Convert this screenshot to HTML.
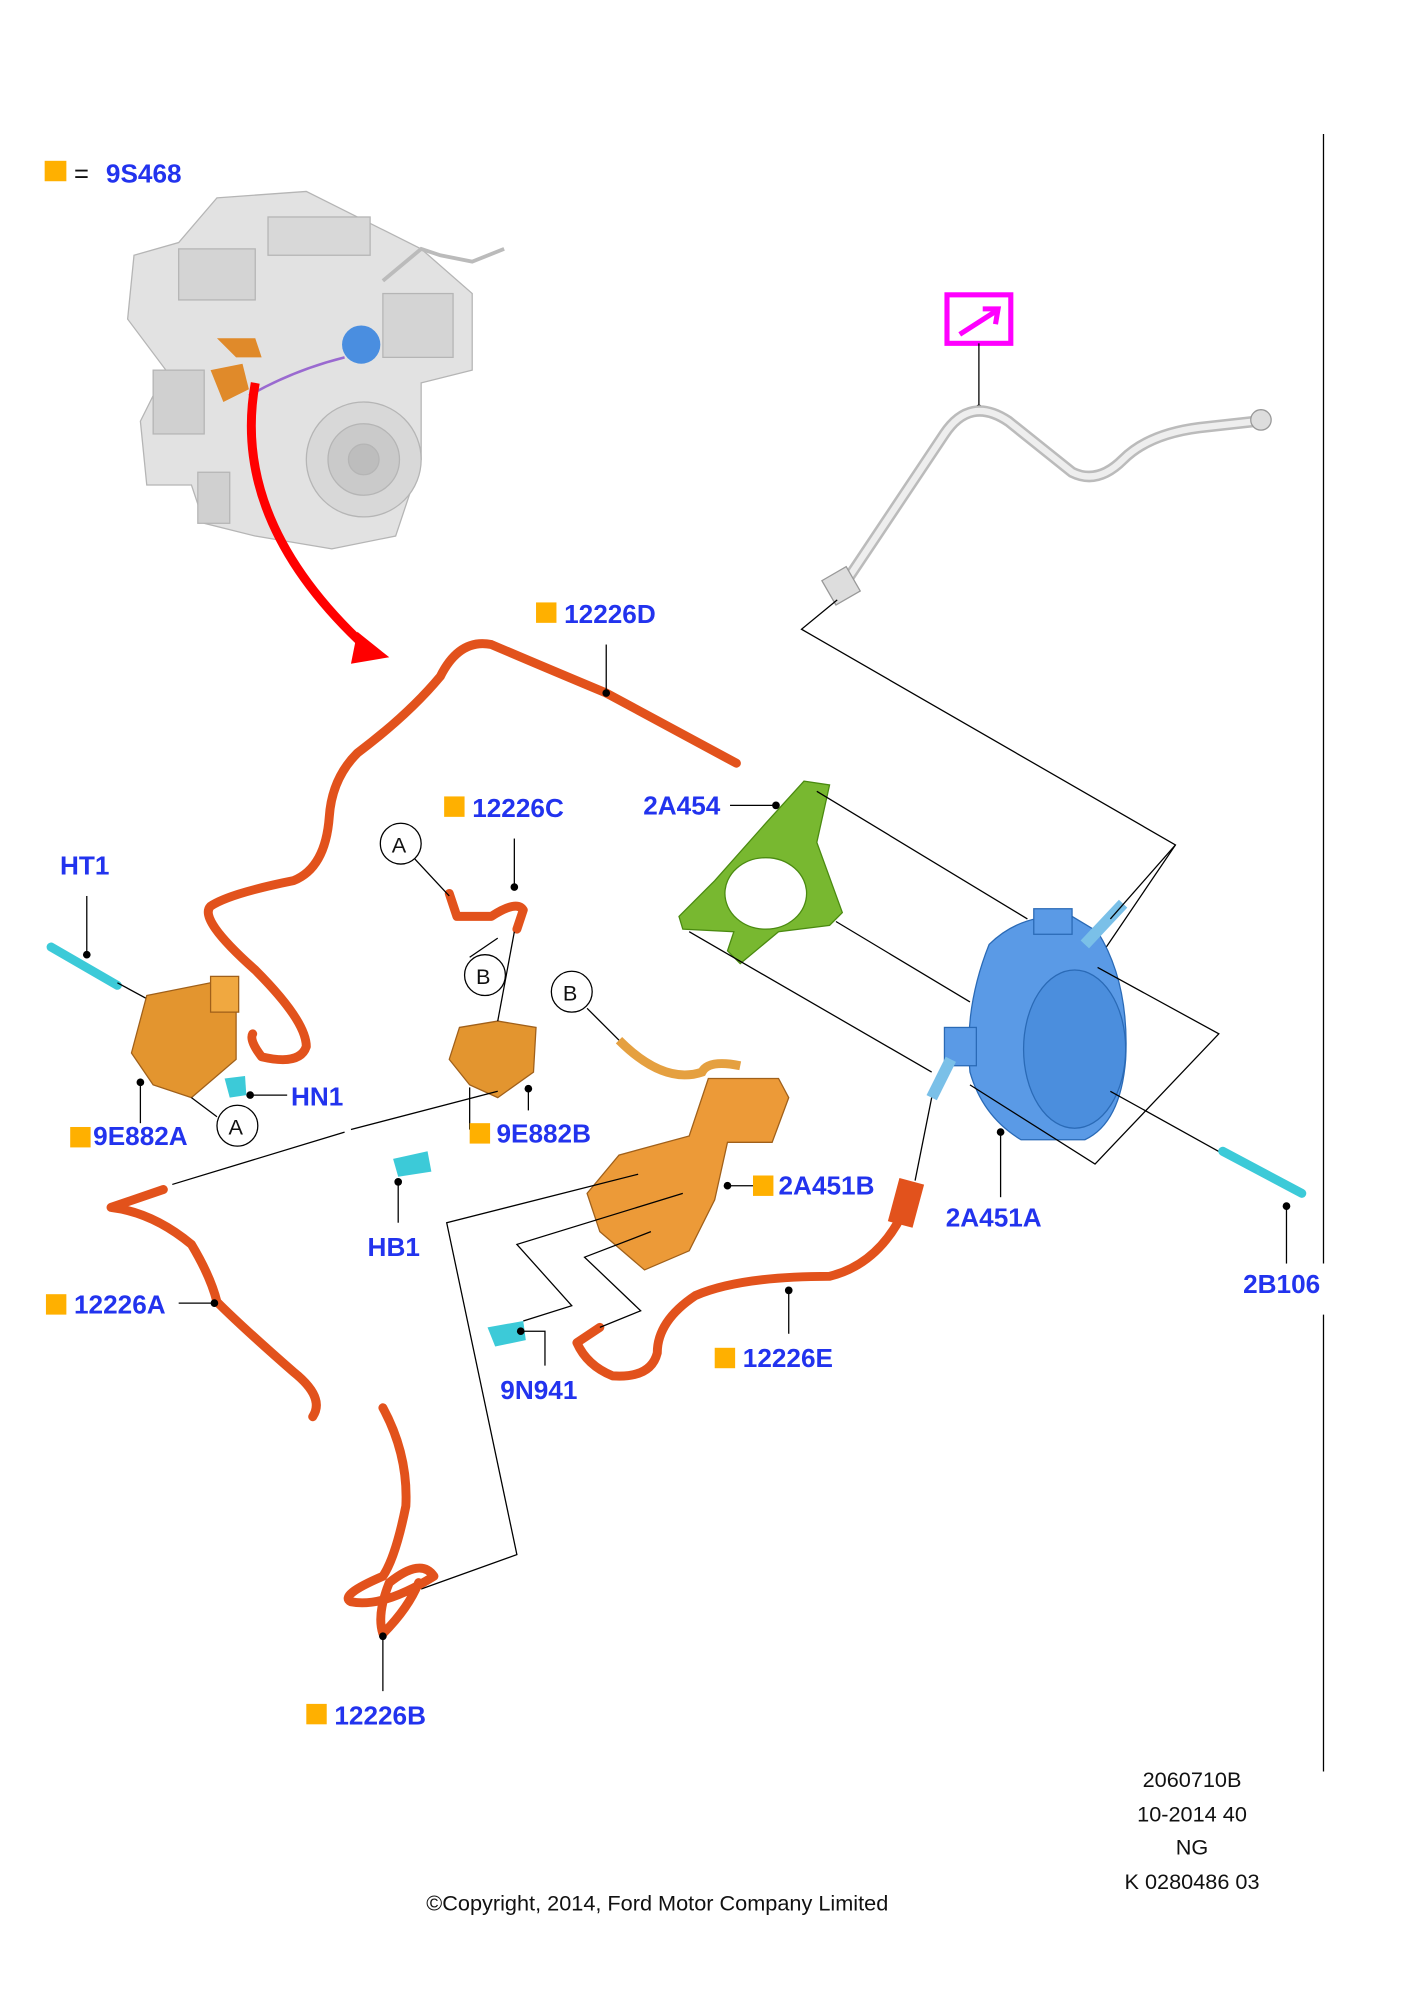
<!DOCTYPE html>
<html><head><meta charset="utf-8"><style>
html,body{margin:0;padding:0;background:#fff}
svg{display:block}
.l{font-family:"Liberation Sans",sans-serif;font-weight:bold;font-size:20.5px;fill:#2233ee}
.k{font-family:"Liberation Sans",sans-serif;font-size:17px;fill:#111}
.ln{stroke:#000;stroke-width:1;fill:none}
.h{fill:none;stroke:#e2521c;stroke-width:7;stroke-linecap:round;stroke-linejoin:round}
.c{fill:#fff;stroke:#000;stroke-width:1}
</style></head><body>
<svg width="1409" height="2000" viewBox="0 0 1104 1567" preserveAspectRatio="none" xmlns="http://www.w3.org/2000/svg">
<rect width="1104" height="1567" fill="#fff"/>
<rect x="35" y="126" width="17" height="16" fill="#ffb000"/>
<text x="58" y="143" class="k" style="font-size:20px">=</text>
<text x="83" y="143" class="l">9S468</text>
<!-- engine -->
<g fill="#e2e2e2" stroke="#b5b5b5" stroke-width="1">
<path d="M170 155 L240 150 L300 180 L330 195 L370 230 L370 290 L330 300 L330 360 L310 420 L260 430 L200 420 L160 410 L150 380 L115 380 L110 330 L130 290 L100 250 L105 200 L140 190 Z"/>
<rect x="140" y="195" width="60" height="40" fill="#d4d4d4"/>
<rect x="210" y="170" width="80" height="30" fill="#d8d8d8"/>
<rect x="300" y="230" width="55" height="50" fill="#d4d4d4"/>
<rect x="120" y="290" width="40" height="50" fill="#d0d0d0"/>
<circle cx="285" cy="360" r="45" fill="#d8d8d8"/>
<circle cx="285" cy="360" r="28" fill="#cacaca"/>
<circle cx="285" cy="360" r="12" fill="#bdbdbd"/>
<rect x="155" y="370" width="25" height="40" fill="#d0d0d0"/>
</g>
<path d="M300 220 L330 195 L345 200 L370 205 L395 195" stroke="#bbb" stroke-width="3" fill="none"/>
<circle cx="283" cy="270" r="15" fill="#4a8ee0"/>
<path d="M165 290 L190 285 L195 305 L175 315 Z" fill="#e08a2a"/>
<path d="M170 265 L200 265 L205 280 L185 280 Z" fill="#e08a2a"/>
<path d="M195 310 Q230 290 270 280" stroke="#9a6ad0" stroke-width="2" fill="none"/>
<path d="M200 300 Q180 410 290 510" stroke="#f00" stroke-width="7" fill="none"/>
<path d="M280 495 L305 515 L275 520 Z" fill="#f00"/>
<line x1="1037" y1="105" x2="1037" y2="990" class="ln"/>
<line x1="1037" y1="1030" x2="1037" y2="1388" class="ln"/>
<rect x="742" y="231" width="50" height="38" fill="none" stroke="#f0f" stroke-width="4"/>
<path d="M752 262 L780 244 M770 242 L782 242 L780 254" stroke="#f0f" stroke-width="4" fill="none"/>
<line x1="767" y1="269" x2="767" y2="320" class="ln"/>
<circle cx="767" cy="320" r="3"/>
<path d="M660 460 L740 340 Q760 310 790 330 L840 370 Q860 380 880 360 Q900 340 940 335 L985 330" stroke="#bbb" stroke-width="9" fill="none"/>
<path d="M660 460 L740 340 Q760 310 790 330 L840 370 Q860 380 880 360 Q900 340 940 335 L985 330" stroke="#eee" stroke-width="5" fill="none"/>
<circle cx="988" cy="329" r="8" fill="#ddd" stroke="#999"/>
<rect x="648" y="448" width="22" height="22" fill="#ddd" stroke="#999" transform="rotate(-30 659 459)"/>
<polyline points="656,470 628,493 921,662 858,755" class="ln"/>
<path class="h" d="M577 598 L475 543 Q420 520 385 505 Q360 500 345 530 Q320 560 280 590 Q260 610 258 640 Q255 680 230 690 Q180 700 165 710 Q155 720 200 760 Q240 800 240 820 Q235 835 205 828 Q195 815 198 810"/>
<rect x="420" y="472" width="16" height="16" fill="#ffb000"/>
<text x="442" y="488" class="l">12226D</text>
<line x1="475" y1="505" x2="475" y2="543" class="ln"/><circle cx="475" cy="543" r="3"/>
<rect x="348" y="624" width="16" height="16" fill="#ffb000"/>
<text x="370" y="640" class="l">12226C</text>
<polyline points="403,657 403,695" class="ln"/><circle cx="403" cy="695" r="3"/>
<path class="h" d="M352 700 L358 718 L385 718 Q405 705 410 713 L405 728"/>
<circle cx="314" cy="661" r="16" class="c"/><text x="307" y="668" class="k">A</text>
<line x1="325" y1="673" x2="352" y2="702" class="ln"/>
<circle cx="380" cy="764" r="16" class="c"/><text x="373" y="771" class="k">B</text>
<line x1="368" y1="750" x2="390" y2="735" class="ln"/>
<text x="504" y="638" class="l">2A454</text>
<line x1="572" y1="631" x2="608" y2="631" class="ln"/><circle cx="608" cy="631" r="3"/>
<path d="M630 612 L650 615 L640 660 L660 715 L650 725 L610 730 L580 755 L570 745 L575 730 L535 728 L532 718 L560 690 L600 645 Z" fill="#78b830" stroke="#4a8a10"/>
<ellipse cx="600" cy="700" rx="32" ry="28" fill="#fff" stroke="#4a8a10"/>
<polyline points="640,620 805,720" class="ln"/>
<polyline points="655,722 760,785" class="ln"/>
<polyline points="540,730 730,840" class="ln"/>
<g>
<path d="M775 740 Q800 715 840 718 L860 730 Q885 770 882 830 Q878 880 850 893 L800 893 Q770 875 760 840 Q755 790 775 740 Z" fill="#5a9ae6" stroke="#2a6ab6"/>
<ellipse cx="842" cy="822" rx="40" ry="62" fill="#4b8edd" stroke="#2a6ab6"/>
<rect x="740" y="805" width="25" height="30" fill="#5a9ae6" stroke="#2a6ab6"/>
<rect x="810" y="712" width="30" height="20" fill="#5a9ae6" stroke="#2a6ab6"/>
<path d="M850 740 L880 708" stroke="#7ac0e8" stroke-width="9"/>
<path d="M745 830 L730 860" stroke="#7ac0e8" stroke-width="9"/>
</g>
<polyline points="870,720 921,662" class="ln"/>
<polyline points="860,758 955,810 858,912 760,850" class="ln"/>
<line x1="784" y1="887" x2="784" y2="938" class="ln"/><circle cx="784" cy="887" r="3"/>
<text x="741" y="961" class="l">2A451A</text>
<line x1="870" y1="855" x2="960" y2="905" class="ln"/>
<path d="M958 902 L1020 935" stroke="#3ccad8" stroke-width="7" stroke-linecap="round"/>
<line x1="1008" y1="945" x2="1008" y2="990" class="ln"/><circle cx="1008" cy="945" r="3"/>
<text x="974" y="1013" class="l">2B106</text>
<path class="h" d="M710 945 Q690 990 650 1000 Q580 1000 545 1015 Q515 1035 515 1060 Q510 1080 480 1078 Q460 1070 452 1052 L470 1040"/>
<rect x="700" y="925" width="20" height="35" fill="#e2521c" transform="rotate(15 710 942)"/>
<line x1="717" y1="925" x2="730" y2="860" class="ln"/>
<line x1="618" y1="1011" x2="618" y2="1045" class="ln"/><circle cx="618" cy="1011" r="3"/>
<rect x="560" y="1056" width="16" height="16" fill="#ffb000"/>
<text x="582" y="1071" class="l">12226E</text>
<text x="47" y="685" class="l">HT1</text>
<line x1="68" y1="702" x2="68" y2="748" class="ln"/><circle cx="68" cy="748" r="3"/>
<path d="M40 742 L92 772" stroke="#3ccad8" stroke-width="7" stroke-linecap="round"/>
<line x1="92" y1="770" x2="175" y2="815" class="ln"/>
<path d="M115 780 L165 770 L185 780 L185 830 L150 860 L120 850 L103 825 Z" fill="#e3952f" stroke="#a0601a"/>
<rect x="165" y="765" width="22" height="28" fill="#f0a840" stroke="#a0601a"/>
<line x1="110" y1="845" x2="110" y2="880" class="ln"/><circle cx="110" cy="848" r="3"/>
<rect x="55" y="883" width="16" height="16" fill="#ffb000"/>
<text x="73" y="897" class="l">9E882A</text>
<path d="M176 845 L192 843 L193 858 L180 860 Z" fill="#3ccad8"/>
<line x1="196" y1="858" x2="225" y2="858" class="ln"/><circle cx="196" cy="858" r="3"/>
<text x="228" y="866" class="l">HN1</text>
<circle cx="186" cy="882" r="16" class="c"/><text x="179" y="889" class="k">A</text>
<line x1="170" y1="875" x2="150" y2="860" class="ln"/>
<path d="M360 805 L390 800 L420 805 L418 840 L390 860 L368 850 L352 830 Z" fill="#e3952f" stroke="#a0601a"/>
<line x1="390" y1="800" x2="403" y2="730" class="ln"/>
<line x1="368" y1="852" x2="368" y2="885" class="ln"/>
<line x1="414" y1="853" x2="414" y2="870" class="ln"/><circle cx="414" cy="853" r="3"/>
<rect x="368" y="880" width="16" height="16" fill="#ffb000"/>
<text x="389" y="895" class="l">9E882B</text>
<line x1="275" y1="885" x2="390" y2="855" class="ln"/>
<line x1="135" y1="928" x2="270" y2="887" class="ln"/>
<path d="M308 908 L335 902 L338 918 L312 922 Z" fill="#3ccad8"/>
<line x1="312" y1="926" x2="312" y2="958" class="ln"/><circle cx="312" cy="926" r="3"/>
<text x="288" y="984" class="l">HB1</text>
<circle cx="448" cy="777" r="16" class="c"/><text x="441" y="784" class="k">B</text>
<line x1="460" y1="790" x2="485" y2="815" class="ln"/>
<path d="M485 815 Q520 850 550 840 Q555 830 580 835" stroke="#e5a040" stroke-width="7" fill="none"/>
<path d="M555 845 L610 845 L618 860 L605 895 L570 895 L560 940 L540 980 L505 995 L470 965 L460 935 L485 905 L540 890 Z" fill="#ec9a38" stroke="#a0601a"/>
<line x1="570" y1="929" x2="590" y2="929" class="ln"/><circle cx="570" cy="929" r="3"/>
<rect x="590" y="921" width="16" height="16" fill="#ffb000"/>
<text x="610" y="936" class="l">2A451B</text>
<polyline points="500,920 350,958 405,1218 330,1245" class="ln"/>
<polyline points="535,935 405,975 448,1023 410,1035" class="ln"/>
<polyline points="510,965 458,985 502,1027 470,1040" class="ln"/>
<path d="M382 1040 L410 1035 L412 1050 L388 1055 Z" fill="#3ccad8"/>
<polyline points="408,1043 427,1043 427,1070" class="ln"/><circle cx="408" cy="1043" r="3"/>
<text x="392" y="1096" class="l">9N941</text>
<path class="h" d="M87 946 L128 932 M87 946 Q120 950 150 975 Q165 1000 170 1020 Q190 1040 230 1075 Q255 1095 245 1110"/>
<rect x="36" y="1014" width="16" height="16" fill="#ffb000"/>
<text x="58" y="1029" class="l">12226A</text>
<line x1="140" y1="1021" x2="168" y2="1021" class="ln"/><circle cx="168" cy="1021" r="3"/>
<path class="h" d="M300 1103 Q320 1140 318 1180 Q310 1220 300 1235 Q265 1250 275 1255 Q300 1260 340 1235 Q330 1220 305 1240 Q295 1265 300 1280 Q320 1260 328 1240"/>
<line x1="300" y1="1282" x2="300" y2="1325" class="ln"/><circle cx="300" cy="1282" r="3"/>
<rect x="240" y="1335" width="16" height="16" fill="#ffb000"/>
<text x="262" y="1351" class="l">12226B</text>
<text x="934" y="1400" class="k" text-anchor="middle">2060710B</text>
<text x="934" y="1427" class="k" text-anchor="middle">10-2014 40</text>
<text x="934" y="1453" class="k" text-anchor="middle">NG</text>
<text x="934" y="1480" class="k" text-anchor="middle">K 0280486 03</text>
<text x="515" y="1497" class="k" text-anchor="middle">©Copyright, 2014, Ford Motor Company Limited</text>
</svg>
</body></html>
